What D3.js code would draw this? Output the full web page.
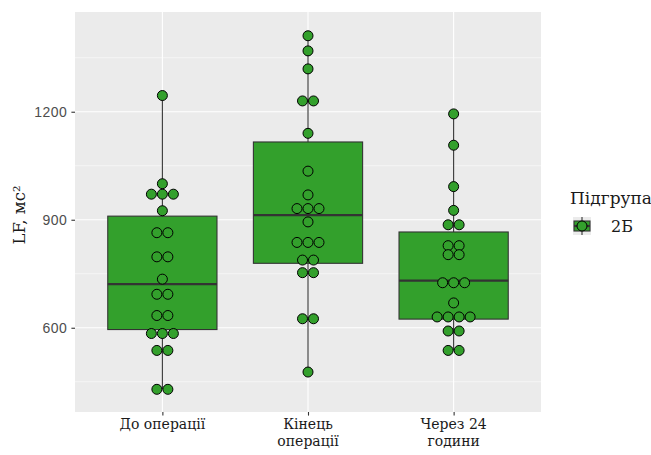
<!DOCTYPE html>
<html>
<head>
<meta charset="utf-8">
<script src="https://cdn.jsdelivr.net/npm/d3@7"></script>
<style>
  html, body { margin: 0; padding: 0; background: #ffffff; }
  svg { display: block; }
</style>
</head>
<body>
<svg id="chart" width="651" height="455"></svg>
<script>
// Stages of measurement (x-axis categories), with line breaks for the labels
const categories = ["До операції", "Кінець операції", "Через 24 години"];
const categoryLines = [["До операції"], ["Кінець", "операції"], ["Через 24", "години"]];

// LF values (мс²) per stage, one entry per patient
const valuesBefore = [1245, 1000, 971, 971, 971, 925, 864, 864, 797, 797, 735,
                      693, 693, 634, 634, 584, 584, 584, 537, 537, 429, 429];
const valuesEnd    = [1411, 1369, 1319, 1230, 1230, 1140, 1035, 969, 931, 931, 931,
                      894, 837, 837, 837, 788, 788, 753, 753, 625, 625, 477];
const valuesAfter  = [1194, 1107, 992, 926, 886, 886, 828, 828, 803, 803, 725,
                      725, 725, 669, 630, 630, 630, 630, 591, 591, 537, 537];
const seriesValues = [valuesBefore, valuesEnd, valuesAfter];

// Box summaries per stage
const boxQ1     = [595, 779, 624];
const boxMedian = [721, 913, 731];
const boxQ3     = [910, 1116, 866];

// Axis ticks
const yMajorTicks = [600, 900, 1200];
const yMinorTicks = [450, 750, 1050, 1350];
const yDomain = [366, 1477];

const legendTitle = "Підгрупа";
const legendLabel = "2Б";
const yTitle = "LF, мс²";

const green = "#33a02c";
const dark = "#333333";
const serif = "'DejaVu Serif', 'Liberation Serif', serif";

const svg = d3.select("#chart");
const panel = { left: 75, right: 541, top: 12, bottom: 412 };

const x = d3.scalePoint().domain(categories).range([panel.left, panel.right]).padding(0.6);
const y = d3.scaleLinear().domain(yDomain).range([panel.bottom, panel.top]);
const boxWidth = x.step() * 0.75;
const dotDiameter = 11;

// Panel background and grid
svg.append("rect")
  .attr("x", panel.left).attr("y", panel.top)
  .attr("width", panel.right - panel.left).attr("height", panel.bottom - panel.top)
  .attr("fill", "#ebebeb");

svg.append("g").selectAll("line").data(yMinorTicks).join("line")
  .attr("x1", panel.left).attr("x2", panel.right)
  .attr("y1", d => y(d)).attr("y2", d => y(d))
  .attr("stroke", "#ffffff").attr("stroke-width", 0.55);

svg.append("g").selectAll("line").data(yMajorTicks).join("line")
  .attr("x1", panel.left).attr("x2", panel.right)
  .attr("y1", d => y(d)).attr("y2", d => y(d))
  .attr("stroke", "#ffffff").attr("stroke-width", 1.1);

svg.append("g").selectAll("line").data(categories).join("line")
  .attr("x1", d => x(d)).attr("x2", d => x(d))
  .attr("y1", panel.top).attr("y2", panel.bottom)
  .attr("stroke", "#ffffff").attr("stroke-width", 1.1);

// Boxes with whiskers
const boxes = svg.append("g").selectAll("g").data(categories).join("g");

boxes.append("line")
  .attr("x1", d => x(d)).attr("x2", d => x(d))
  .attr("y1", (d, i) => y(d3.max(seriesValues[i])))
  .attr("y2", (d, i) => y(boxQ3[i]))
  .attr("stroke", dark).attr("stroke-width", 1.1);

boxes.append("line")
  .attr("x1", d => x(d)).attr("x2", d => x(d))
  .attr("y1", (d, i) => y(boxQ1[i]))
  .attr("y2", (d, i) => y(d3.min(seriesValues[i])))
  .attr("stroke", dark).attr("stroke-width", 1.1);

boxes.append("rect")
  .attr("x", d => x(d) - boxWidth / 2)
  .attr("width", boxWidth)
  .attr("y", (d, i) => y(boxQ3[i]))
  .attr("height", (d, i) => y(boxQ1[i]) - y(boxQ3[i]))
  .attr("fill", green).attr("stroke", dark).attr("stroke-width", 1.1);

boxes.append("line")
  .attr("x1", d => x(d) - boxWidth / 2).attr("x2", d => x(d) + boxWidth / 2)
  .attr("y1", (d, i) => y(boxMedian[i])).attr("y2", (d, i) => y(boxMedian[i]))
  .attr("stroke", dark).attr("stroke-width", 2.2);

// Dot plot: equal values are stacked side by side, centred on the category
const dots = [];
categories.forEach((cat, i) => {
  const groups = d3.groups(seriesValues[i], v => v);
  groups.forEach(([value, members]) => {
    const n = members.length;
    members.forEach((_, k) => {
      dots.push({ cx: x(cat) + (k - (n - 1) / 2) * dotDiameter, cy: y(value) });
    });
  });
});

svg.append("g").selectAll("circle").data(dots).join("circle")
  .attr("cx", d => d.cx).attr("cy", d => d.cy)
  .attr("r", dotDiameter / 2 - 0.5)
  .attr("fill", green).attr("stroke", "#000000").attr("stroke-width", 1);

// Y axis
const yAxis = svg.append("g")
  .attr("transform", `translate(${panel.left},0)`)
  .call(d3.axisLeft(y).tickValues(yMajorTicks).tickSize(3.6).tickPadding(4).tickFormat(d3.format("d")));
yAxis.select(".domain").remove();
yAxis.selectAll(".tick line").attr("stroke", dark).attr("stroke-width", 1.1);
yAxis.selectAll(".tick text")
  .attr("fill", "#4d4d4d")
  .style("font-family", "'Liberation Sans', Arial, sans-serif")
  .style("font-size", "14px")
  .style("letter-spacing", "0.5px");

// X axis
const xAxis = svg.append("g")
  .attr("transform", `translate(0,${panel.bottom})`)
  .call(d3.axisBottom(x).tickSize(3.6).tickFormat(""));
xAxis.select(".domain").remove();
xAxis.selectAll(".tick line").attr("stroke", dark).attr("stroke-width", 1.1);

const xLabels = svg.append("g").selectAll("text").data(categories).join("text")
  .attr("x", d => x(d))
  .attr("y", 429)
  .attr("text-anchor", "middle")
  .attr("fill", "#1a1a1a")
  .style("font-family", serif)
  .style("font-size", "14px");
xLabels.each(function(d, i) {
  d3.select(this).selectAll("tspan").data(categoryLines[i]).join("tspan")
    .attr("x", x(d))
    .attr("dy", (t, k) => k === 0 ? 0 : 17)
    .text(t => t);
});

// Y title
svg.append("text")
  .attr("transform", `translate(25,${(panel.top + panel.bottom) / 2 + 3}) rotate(-90)`)
  .attr("text-anchor", "middle")
  .attr("fill", "#1a1a1a")
  .style("font-family", serif)
  .style("font-size", "16.5px")
  .text(yTitle);

// Legend
const legend = svg.append("g");
legend.append("text")
  .attr("x", 570).attr("y", 204)
  .attr("fill", "#1a1a1a")
  .style("font-family", serif)
  .style("font-size", "17px")
  .text(legendTitle);

const keyX = 573, keyY = 217, keySize = 18;
legend.append("rect")
  .attr("x", keyX).attr("y", keyY).attr("width", keySize).attr("height", keySize)
  .attr("fill", "#ebebeb");
legend.append("line")
  .attr("x1", keyX + keySize / 2).attr("x2", keyX + keySize / 2)
  .attr("y1", keyY).attr("y2", keyY + keySize)
  .attr("stroke", dark).attr("stroke-width", 1.1);
legend.append("rect")
  .attr("x", keyX + 1).attr("y", keyY + 4).attr("width", keySize - 2).attr("height", keySize - 8)
  .attr("fill", green).attr("stroke", dark).attr("stroke-width", 1.1);
legend.append("line")
  .attr("x1", keyX + 1).attr("x2", keyX + keySize - 1)
  .attr("y1", keyY + keySize / 2).attr("y2", keyY + keySize / 2)
  .attr("stroke", dark).attr("stroke-width", 2.2);
legend.append("circle")
  .attr("cx", keyX + keySize / 2).attr("cy", keyY + keySize / 2)
  .attr("r", 5)
  .attr("fill", green).attr("stroke", "#000000").attr("stroke-width", 1);
legend.append("text")
  .attr("x", 611).attr("y", 232)
  .attr("fill", "#1a1a1a")
  .style("font-family", serif)
  .style("font-size", "16px")
  .text(legendLabel);
</script>
</body>
</html>
